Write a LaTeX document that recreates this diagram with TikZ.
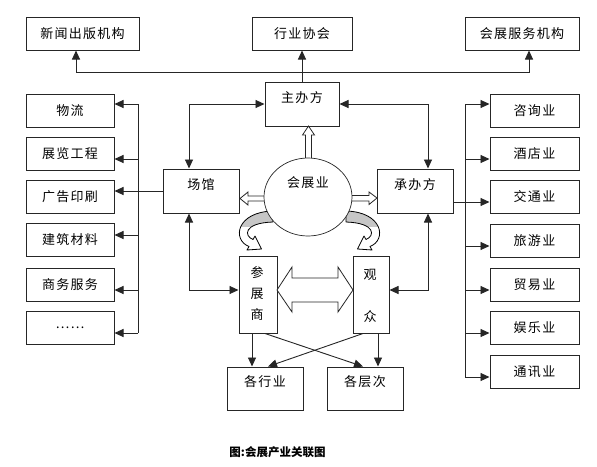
\documentclass[tikz,border=0pt]{standalone}
\usepackage{fontspec}
\setmainfont{Noto Sans CJK SC}
\newfontfamily\bx[LetterSpace=10]{Noto Sans CJK SC}
\usetikzlibrary{arrows.meta,shapes.geometric,calc}
\newcommand\bandpath{(273,211) .. controls (236,212) and (232,240) .. (249,246.5) -- (247,250) -- (261.5,249) -- (255,236) -- (253,239.5) .. controls (244,236) and (243,223) .. (273,222) -- cycle}
\newcommand\curvearrow{%
  \fill[white] \bandpath;
  \begin{scope}\clip \bandpath; \fill[gray!45] (220,195) rectangle (285,227);\end{scope}
  \draw[line width=0.8pt, line join=round] \bandpath;}
\begin{document}
\begin{tikzpicture}[x=1pt,y=-1pt,
  box/.style={draw=black!85, line width=1pt, inner sep=0pt, font=\bx\fontsize{13}{15}\selectfont},
  txt/.style={inner sep=0pt, font=\bx\fontsize{13}{15}\selectfont},
  sbox/.style={box, minimum width=88pt, minimum height=33pt},
  rbox/.style={box, minimum width=89pt, minimum height=33pt},
  mbox/.style={box, minimum width=76pt, minimum height=44pt},
  ln/.style={draw=black!85, line width=0.9pt},
  arr/.style={ln, -{Triangle[length=9pt,width=8pt]}},
  arrb/.style={ln, {Triangle[length=9pt,width=8pt]}-{Triangle[length=9pt,width=8pt]}},
  hollow/.style={fill=white, draw=black!85, line width=0.8pt, line join=miter}]
\fill[white] (0,0) rectangle (597,466);
\useasboundingbox (0,0) rectangle (597,466);

% top boxes
\node[box, minimum width=113pt, minimum height=33pt] (xw) at (82.5,33.5) {新闻出版机构};
\node[box, minimum width=100pt, minimum height=33pt] (hy) at (302,33.5) {行业协会};
\node[box, minimum width=114pt, minimum height=33pt] (hf) at (522,33.5) {会展服务机构};

% left boxes
\node[sbox] (wl) at (70,110.5) {物流};
\node[sbox] (zl) at (70,153.5) {展览工程};
\node[sbox] (gg) at (70,197) {广告印刷};
\node[sbox] (jz) at (70,240) {建筑材料};
\node[sbox] (sw) at (70,284.5) {商务服务};
\node[sbox] (dd) at (70,328) {……};

% right boxes
\node[rbox] (zx) at (534.5,110.5) {咨询业};
\node[rbox] (jd) at (534.5,153.5) {酒店业};
\node[rbox] (jt) at (534.5,197) {交通业};
\node[rbox] (ly) at (534.5,240.5) {旅游业};
\node[rbox] (my) at (534.5,284.5) {贸易业};
\node[rbox] (yl) at (534.5,327.5) {娱乐业};
\node[rbox] (tx) at (534.5,372) {通讯业};

% middle boxes
\node[mbox, minimum width=74pt] (zb) at (302,104) {};
\node[txt] (zbt) at ([yshift=6pt]zb.center) {主办方};
\node[mbox] (cg) at (201,191) {};
\node[txt] (cgt) at ([yshift=6pt]cg.center) {场馆};
\node[mbox] (cb) at (415,191) {};
\node[txt] (cbt) at ([yshift=6pt]cb.center) {承办方};
\node[mbox, minimum height=43pt] (gh) at (265,388.5) {};
\node[txt] (ght) at ([yshift=6.5pt]gh.center) {各行业};
\node[mbox, minimum height=43pt] (gc) at (365,388.5) {};
\node[txt] (gct) at ([yshift=6.5pt]gc.center) {各层次};

\node[box, minimum width=38pt, minimum height=77pt] (cz) at (258,294.5) {};
\node[txt, align=center, font=\bx\fontsize{13}{21}\selectfont] (czt) at (257,294) {参\\展\\商};
\node[box, minimum width=36pt, minimum height=77pt] (gz) at (371,294.5) {};
\node[txt, align=center, font=\bx\fontsize{13}{42}\selectfont] (gzt) at (370,296) {观\\众};

% hollow arrows out of the ellipse
\filldraw[hollow] (240,198.5) -- (248,192) -- (248,196) -- (272,196) -- (272,201) -- (248,201) -- (248,205) -- cycle;
\filldraw[hollow] (377,198) -- (369,192) -- (369,195.5) -- (345,195.5) -- (345,201) -- (369,201) -- (369,204.5) -- cycle;
\filldraw[hollow] (308.5,126) -- (314.5,135) -- (311.5,135) -- (311.5,170) -- (305.5,170) -- (305.5,135) -- (302.5,135) -- cycle;

% curved arrows
\curvearrow
\begin{scope}[xshift=619pt, xscale=-1]
\curvearrow
\end{scope}

% ellipse
\node[draw=black!85, ellipse, fill=white, line width=0.7pt, minimum width=88pt, minimum height=78pt, inner sep=0pt] (hzy) at (308,197) {};
\node[txt] (hzyt) at (308,183) {会展业};

% big double arrow
\filldraw[hollow] (277,290) -- (292,267) -- (292,278) -- (338,278) -- (338,267) -- (353,290) -- (338,312) -- (338,302) -- (292,302) -- (292,312) -- cycle;

% top bus
\coordinate (tb) at (302,72);
\draw[arr] (zb.north) -- (hy.south);
\draw[arr] (tb) -| ([xshift=-6.5pt]xw.south);
\draw[arr] (tb) -| ([xshift=7pt]hf.south);

% left bus
\coordinate (lb1) at (138,104);
\coordinate (lb2) at (138,159);
\coordinate (lb4) at (138,235);
\coordinate (lb5) at (138,290);
\coordinate (lb6) at (138,333);
\draw[ln] (lb1) -- (lb6);
\draw[arr] (lb1) -- (wl.east |- lb1);
\draw[arr] (lb2) -- (zl.east |- lb2);
\draw[arr] (lb4) -- (jz.east |- lb4);
\draw[arr] (lb5) -- (sw.east |- lb5);
\draw[arr] (lb6) -- (dd.east |- lb6);
\draw[arr] (cg.west) -- (gg.east |- cg.west);

% right bus
\coordinate (rb1) at (465,104);
\coordinate (rb2) at (465,159);
\coordinate (rb4) at (465,246);
\coordinate (rb5) at (465,290);
\coordinate (rb6) at (465,333);
\coordinate (rb7) at (465,377);
\draw[ln] (rb1) -- (rb7);
\draw[arr] (rb1) -- (zx.west |- rb1);
\draw[arr] (rb2) -- (jd.west |- rb2);
\draw[arr] (rb4) -- (ly.west |- rb4);
\draw[arr] (rb5) -- (my.west |- rb5);
\draw[arr] (rb6) -- (yl.west |- rb6);
\draw[arr] (rb7) -- (tx.west |- rb7);
\coordinate (cbo) at ([yshift=-11pt]cb.east);
\draw[arr] (cbo) -- (jt.west |- cbo);

% inner connectors
\draw[arrb] ([xshift=-12pt]cg.north) |- (zb.west);
\draw[arrb] ([xshift=13pt]cb.north) |- (zb.east);
\draw[arrb] ([xshift=-12pt]cg.south) |- ([yshift=4.5pt]cz.west);
\draw[arrb] ([xshift=13pt]cb.south) |- ([yshift=4.5pt]gz.east);
\draw[arr] ([xshift=-6pt]cz.south) -- ([xshift=-13pt]gh.north);
\draw[arr] ([xshift=7pt]gz.south) -- ([xshift=13pt]gc.north);
\draw[arr] ([xshift=7pt]cz.south) -- ([xshift=-2pt]gc.north);
\draw[arr] ([xshift=-8pt]gz.south) -- ([xshift=3pt]gh.north);

% caption
\node[inner sep=0pt, font=\bfseries\fontsize{11.5}{13}\selectfont] (cap) at (277.5,452) {图:会展产业关联图};
\end{tikzpicture}
\end{document}
